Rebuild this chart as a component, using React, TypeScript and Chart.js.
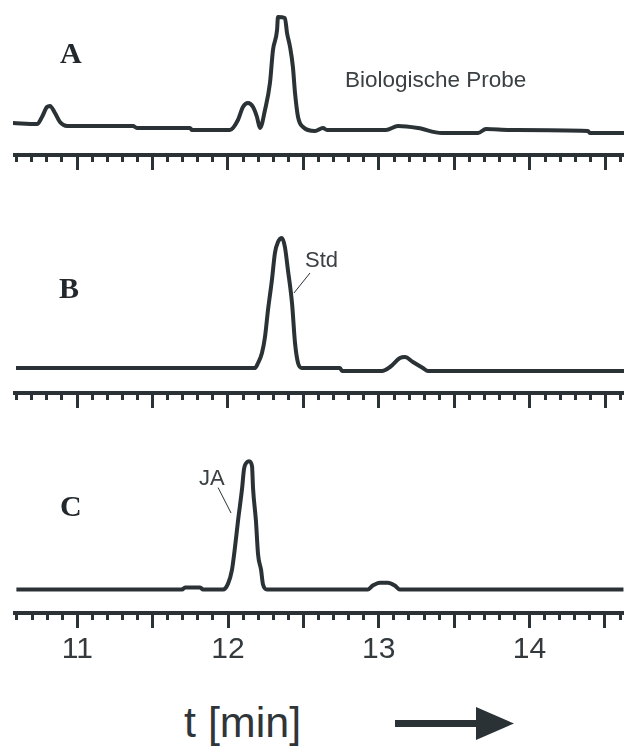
import React, { useEffect, useRef } from 'react';
import { Chart, registerables } from 'chart.js';

Chart.register(...registerables);

// ---------- data (time in min, detector signal in arbitrary units) ----------
const timeA = [10.576, 10.735, 10.768, 10.801, 10.821, 10.854, 10.887, 10.934, 11.371, 11.397, 11.748, 11.762, 12.013, 12.066, 12.099, 12.132, 12.166, 12.192, 12.212, 12.245, 12.278, 12.298, 12.325, 12.331, 12.377, 12.391, 12.411, 12.430, 12.444, 12.464, 12.497, 12.576, 12.629, 12.656, 13.046, 13.126, 13.258, 13.417, 13.656, 13.709, 13.868, 14.384, 14.397, 14.623];
const signalA = [2, 1, 8, 18, 19, 12, 3, -1, -1, -3, -3, -5, -5, 5, 18, 22, 18, 8, -3, 15, 42, 75, 95, 108, 107, 92, 78, 58, 32, 8, -2, -6, -3, -5, -5, -1, -3, -8, -8, -4, -5, -6, -8, -8];

const timeB = [10.596, 12.179, 12.199, 12.225, 12.245, 12.265, 12.291, 12.311, 12.331, 12.358, 12.377, 12.397, 12.424, 12.444, 12.464, 12.490, 12.742, 12.755, 13.020, 13.073, 13.139, 13.172, 13.225, 13.291, 13.325, 14.623];
const signalB = [0, 0, 5, 15, 31, 58, 88, 115, 126, 130, 121, 98, 65, 25, 5, 0, 0, -3, -3, 1, 10, 11, 6, 0, -3, -3];

const timeC = [10.596, 11.695, 11.715, 11.815, 11.834, 11.967, 12.000, 12.026, 12.046, 12.066, 12.093, 12.106, 12.126, 12.139, 12.159, 12.166, 12.185, 12.199, 12.219, 12.232, 12.258, 12.927, 12.960, 13.007, 13.060, 13.106, 13.139, 14.623];
const signalC = [0, 0, 2, 2, 0, 0, 6, 20, 43, 70, 103, 123, 130, 131, 126, 103, 70, 36, 20, 5, 0, 0, 4, 7, 7, 4, 0, 0];

const xTickValues = [11, 12, 13, 14];
const xTickLabels = ['11', '12', '13', '14'];

const X_MIN = 10.576;
const X_MAX = 14.623;
const INK = '#2a3236';

type Leader = { x1: number; y1: number; x2: number; y2: number };

const isMajor = (v: number) => Math.abs(v * 2 - Math.round(v * 2)) < 1e-6;

function leaderPlugin(l: Leader) {
  return {
    id: 'leader',
    afterDatasetsDraw(chart: any) {
      const { x, y } = chart.scales;
      const ctx = chart.ctx;
      ctx.save();
      ctx.strokeStyle = INK;
      ctx.lineWidth = 1;
      ctx.beginPath();
      ctx.moveTo(x.getPixelForValue(l.x1), y.getPixelForValue(l.y1));
      ctx.lineTo(x.getPixelForValue(l.x2), y.getPixelForValue(l.y2));
      ctx.stroke();
      ctx.restore();
    },
  };
}

type PanelProps = {
  top: number;
  height: number;
  xs: number[];
  ys: number[];
  yMin: number;
  yMax: number;
  showLabels: boolean;
  leader?: Leader;
};

function Panel({ top, height, xs, ys, yMin, yMax, showLabels, leader }: PanelProps) {
  const ref = useRef<HTMLCanvasElement | null>(null);
  useEffect(() => {
    if (!ref.current) return;
    const chart = new Chart(ref.current, {
      type: 'line',
      data: {
        datasets: [
          {
            data: xs.map((x, i) => ({ x, y: ys[i] })),
            borderColor: INK,
            borderWidth: 4,
            pointRadius: 0,
            cubicInterpolationMode: 'monotone',
            fill: false,
            clip: false as any,
          },
        ],
      },
      options: {
        responsive: false,
        animation: false,
        events: [],
        layout: { padding: 0 },
        plugins: { legend: { display: false }, tooltip: { enabled: false } },
        scales: {
          x: {
            type: 'linear',
            position: 'bottom',
            min: X_MIN,
            max: X_MAX,
            border: { display: true, width: 4, color: INK },
            grid: {
              drawOnChartArea: false,
              drawTicks: true,
              tickLength: 15,
              tickColor: INK,
              tickWidth: 3,
              tickBorderDash: (ctx: any) => (ctx.tick && !isMajor(ctx.tick.value) ? [5, 40] : []),
            } as any,
            ticks: {
              display: showLabels,
              stepSize: 0.1,
              autoSkip: false,
              maxRotation: 0,
              minRotation: 0,
              includeBounds: false,
              padding: 4,
              color: '#33393c',
              font: { family: '"Liberation Sans", Arial, sans-serif', size: 30 },
              callback: (v: any) => {
                const i = xTickValues.findIndex((t) => Math.abs(t - Number(v)) < 1e-6);
                return i >= 0 ? xTickLabels[i] : '';
              },
            },
          },
          y: {
            display: false,
            min: yMin,
            max: yMax,
          },
        },
      } as any,
      plugins: leader ? [leaderPlugin(leader)] : [],
    });
    return () => chart.destroy();
  }, []);
  return (
    <canvas
      ref={ref}
      width={611}
      height={height}
      style={{ position: 'absolute', left: 13, top, width: 611, height, display: 'block' }}
    />
  );
}

const serif: React.CSSProperties = {
  position: 'absolute',
  fontFamily: '"Liberation Serif", "Times New Roman", serif',
  fontWeight: 'bold',
  fontSize: 30,
  lineHeight: 1,
  color: '#22282b',
  whiteSpace: 'nowrap',
};
const sans: React.CSSProperties = {
  position: 'absolute',
  fontFamily: '"Liberation Sans", Arial, sans-serif',
  lineHeight: 1,
  color: '#3a4043',
  whiteSpace: 'nowrap',
};

export default function App() {
  return (
    <div style={{ position: 'absolute', left: 0, top: 0, width: 624, height: 747, background: '#fff', overflow: 'hidden' }}>
      <Panel top={0} height={170} xs={timeA} ys={signalA} yMin={-30} yMax={125} showLabels={false} />
      <Panel
        top={180}
        height={228}
        xs={timeB}
        ys={signalB}
        yMin={-25}
        yMax={188}
        showLabels={false}
        leader={{ x1: 12.543, y1: 95, x2: 12.437, y2: 75 }}
      />
      <Panel
        top={420}
        height={252}
        xs={timeC}
        ys={signalC}
        yMin={-24}
        yMax={173}
        showLabels={true}
        leader={{ x1: 11.934, y1: 104, x2: 12.02, y2: 78 }}
      />

      <div style={{ ...serif, left: 60, top: 38 }}>A</div>
      <div style={{ ...serif, left: 59, top: 273 }}>B</div>
      <div style={{ ...serif, left: 60, top: 491 }}>C</div>

      <div style={{ ...sans, left: 345, top: 69, fontSize: 22.5 }}>Biologische Probe</div>
      <div style={{ ...sans, left: 305, top: 249, fontSize: 22 }}>Std</div>
      <div style={{ ...sans, left: 199, top: 467, fontSize: 22 }}>JA</div>

      <div style={{ ...sans, left: 184, top: 701, fontSize: 43, color: '#2f3538' }}>t [min]</div>

      <svg width={624} height={747} style={{ position: 'absolute', left: 0, top: 0, pointerEvents: 'none' }}>
        <rect x={395} y={720} width={84} height={7} fill={INK} />
        <polygon points="476,707 514,723.5 476,740" fill={INK} />
      </svg>
    </div>
  );
}
